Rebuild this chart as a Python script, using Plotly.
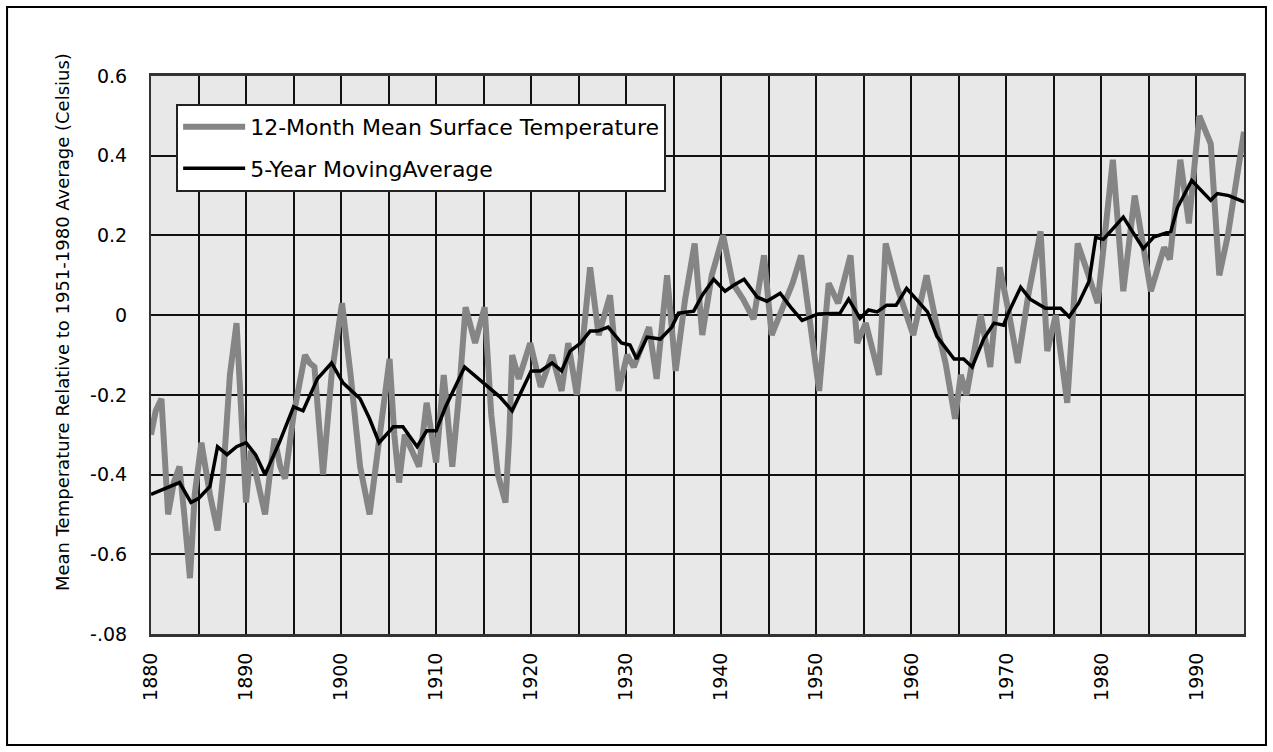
import plotly.graph_objects as go

# 12-month running mean of global surface temperature anomaly (deg C)
monthly_years = [
    1880.0, 1880.5, 1881.1, 1881.4, 1881.8, 1882.4, 1883.0, 1883.5, 1884.1, 1884.6,
    1885.3, 1886.2, 1887.0, 1887.6, 1888.3, 1889.0, 1889.5, 1890.0, 1890.5, 1891.2,
    1892.0, 1892.5, 1893.0, 1893.6, 1894.1, 1895.0, 1896.2, 1896.7, 1897.2, 1897.7,
    1898.1, 1899.0, 1900.1, 1901.0, 1902.0, 1903.0, 1904.0, 1905.1, 1905.6, 1906.1,
    1906.7, 1907.6, 1908.2, 1909.0, 1910.0, 1910.8, 1911.7, 1912.4, 1913.1, 1914.1,
    1915.1, 1915.8, 1916.5, 1917.3, 1917.7, 1918.0, 1918.7, 1919.9, 1921.0, 1922.2,
    1923.2, 1923.9, 1924.8, 1925.5, 1926.2, 1927.1, 1928.3, 1929.2, 1930.1, 1930.8,
    1932.4, 1933.2, 1934.3, 1935.2, 1936.2, 1937.2, 1938.0, 1939.0, 1940.2, 1941.2,
    1942.3, 1943.4, 1944.5, 1945.3, 1946.5, 1947.5, 1948.4, 1949.4, 1950.3, 1951.3,
    1952.3, 1953.6, 1954.3, 1955.2, 1956.6, 1957.3, 1958.5, 1960.2, 1961.6, 1962.7,
    1963.6, 1964.6, 1965.2, 1965.8, 1967.3, 1968.3, 1969.3, 1970.3, 1971.2, 1972.3,
    1973.6, 1974.3, 1975.2, 1976.4, 1977.5, 1978.5, 1979.6, 1981.2, 1982.3, 1983.5,
    1985.2, 1986.6, 1987.2, 1988.3, 1989.2, 1990.3, 1991.5, 1992.4, 1993.3, 1995.0,
]
monthly_values = [
    -0.30, -0.24, -0.21, -0.36, -0.50, -0.42, -0.38, -0.50, -0.66, -0.45,
    -0.32, -0.45, -0.54, -0.40, -0.15, -0.02, -0.25, -0.47, -0.34, -0.42,
    -0.50, -0.40, -0.31, -0.38, -0.41, -0.25, -0.10, -0.12, -0.13, -0.28,
    -0.40, -0.15, 0.03, -0.15, -0.38, -0.50, -0.30, -0.11, -0.30, -0.42,
    -0.30, -0.35, -0.38, -0.22, -0.37, -0.15, -0.38, -0.20, 0.02, -0.07,
    0.02, -0.25, -0.40, -0.47, -0.30, -0.10, -0.16, -0.07, -0.18, -0.10,
    -0.19, -0.07, -0.20, -0.05, 0.12, -0.05, 0.05, -0.19, -0.10, -0.13,
    -0.03, -0.16, 0.10, -0.14, 0.04, 0.18, -0.05, 0.10, 0.20, 0.08,
    0.04, -0.01, 0.15, -0.05, 0.02, 0.08, 0.15, -0.02, -0.19, 0.08,
    0.03, 0.15, -0.07, -0.02, -0.15, 0.18, 0.07, -0.05, 0.10, -0.03,
    -0.12, -0.26, -0.15, -0.20, 0.00, -0.13, 0.12, 0.00, -0.12, 0.05,
    0.21, -0.09, 0.00, -0.22, 0.18, 0.11, 0.03, 0.39, 0.06, 0.30,
    0.06, 0.17, 0.14, 0.39, 0.23, 0.50, 0.43, 0.10, 0.20, 0.46,
]

# 5-year moving average (deg C)
avg_years = [
    1880.0, 1881.0, 1883.0, 1884.2, 1885.0, 1886.2, 1887.0, 1888.0, 1889.0, 1890.0,
    1891.0, 1892.0, 1893.5, 1895.0, 1896.0, 1897.5, 1899.0, 1900.2, 1902.0, 1903.0,
    1904.0, 1905.5, 1906.5, 1908.0, 1909.0, 1910.0, 1911.0, 1913.0, 1915.0, 1916.7,
    1918.0, 1919.0, 1920.0, 1921.0, 1922.2, 1923.2, 1924.1, 1925.2, 1926.2, 1927.0,
    1928.1, 1929.5, 1930.4, 1931.1, 1932.2, 1933.6, 1934.8, 1935.5, 1937.1, 1938.0,
    1939.2, 1940.4, 1941.3, 1942.4, 1943.8, 1944.8, 1946.2, 1947.3, 1948.5, 1950.2,
    1952.5, 1953.4, 1954.6, 1955.5, 1956.4, 1957.4, 1958.4, 1959.5, 1960.8, 1961.7,
    1962.7, 1964.5, 1965.5, 1966.4, 1967.6, 1968.7, 1969.7, 1970.2, 1971.5, 1972.5,
    1974.1, 1975.7, 1976.6, 1977.6, 1978.7, 1979.4, 1980.2, 1982.3, 1984.4, 1985.5,
    1987.3, 1988.0, 1989.5, 1991.5, 1992.2, 1993.4, 1995.0,
]
avg_values = [
    -0.45, -0.44, -0.42, -0.47, -0.46, -0.43, -0.33, -0.35, -0.33, -0.32,
    -0.35, -0.40, -0.32, -0.23, -0.24, -0.16, -0.12, -0.17, -0.21, -0.26,
    -0.32, -0.28, -0.28, -0.33, -0.29, -0.29, -0.23, -0.13, -0.17, -0.205,
    -0.24, -0.19, -0.14, -0.14, -0.12, -0.14, -0.09, -0.07, -0.04, -0.04,
    -0.03, -0.07, -0.075, -0.11, -0.055, -0.06, -0.03, 0.005, 0.01, 0.05,
    0.09, 0.06, 0.075, 0.09, 0.045, 0.035, 0.055, 0.02, -0.013, 0.003,
    0.005, 0.04, -0.008, 0.013, 0.008, 0.025, 0.025, 0.067, 0.033, 0.008,
    -0.054, -0.11, -0.11, -0.13, -0.06, -0.02, -0.025, 0.005, 0.07, 0.04,
    0.017, 0.017, -0.004, 0.03, 0.085, 0.195, 0.19, 0.246, 0.167, 0.196,
    0.21, 0.27, 0.338, 0.288, 0.305, 0.30, 0.284,
]

y_tick_values = [-0.8, -0.6, -0.4, -0.2, 0.0, 0.2, 0.4, 0.6]
y_tick_labels = ["-.08", "-0.6", "-0.4", "-0.2", "0", "0.2", "0.4", "0.6"]
x_tick_values = [1880, 1890, 1900, 1910, 1920, 1930, 1940, 1950, 1960, 1970, 1980, 1990]

FONT = "DejaVu Sans"

fig = go.Figure()
fig.add_trace(go.Scatter(
    x=monthly_years, y=monthly_values, mode="lines",
    name="12-Month Mean Surface Temperature", legendgroup="monthly",
    line=dict(color="#858585", width=6),
))
fig.add_trace(go.Scatter(
    x=avg_years, y=avg_values, mode="lines",
    name="5-Year MovingAverage", legendgroup="average",
    line=dict(color="#000000", width=3.5),
))

fig.update_layout(
    width=1273, height=752,
    margin=dict(l=151, r=29, t=76, b=118),
    paper_bgcolor="white",
    plot_bgcolor="#e8e8e8",
    font=dict(family=FONT, color="black"),
    showlegend=True,
    legend=dict(
        x=0.023, y=0.95, xanchor="left", yanchor="top",
        bgcolor="white", bordercolor="#222222", borderwidth=2,
        font=dict(family=FONT, size=22, color="black"),
        itemwidth=62, tracegroupgap=10,
        entrywidth=490, entrywidthmode="pixels",
    ),
    xaxis=dict(
        range=[1880, 1995],
        tickvals=x_tick_values,
        tickangle=-90,
        tickfont=dict(family=FONT, size=19),
        ticks="", ticklabelstandoff=8,
        showgrid=True, gridcolor="#111111", gridwidth=2,
        minor=dict(dtick=5, tick0=1880, showgrid=True, gridcolor="#111111", gridwidth=2),
        showline=True, linecolor="#333333", linewidth=3, mirror=True,
        zeroline=False,
    ),
    yaxis=dict(
        range=[-0.8, 0.6],
        tickvals=y_tick_values, ticktext=y_tick_labels,
        tickfont=dict(family=FONT, size=19),
        ticks="", ticklabelstandoff=18,
        showgrid=True, gridcolor="#111111", gridwidth=2,
        showline=True, linecolor="#333333", linewidth=2, mirror=True,
        zeroline=False,
    ),
    annotations=[dict(
        text="Mean Temperature Relative to 1951-1980 Average (Celsius)",
        xref="paper", yref="paper", x=-0.0814, y=0.559,
        xanchor="center", yanchor="middle", textangle=-90,
        showarrow=False, font=dict(family=FONT, size=18, color="black"),
    )],
    shapes=[dict(
        type="rect", xref="paper", yref="paper",
        x0=-0.1317, x1=1.0201, y0=-0.1989, y1=1.1237,
        line=dict(color="black", width=2), fillcolor="rgba(0,0,0,0)",
        layer="below",
    )],
)

fig.write_html("out.html")
